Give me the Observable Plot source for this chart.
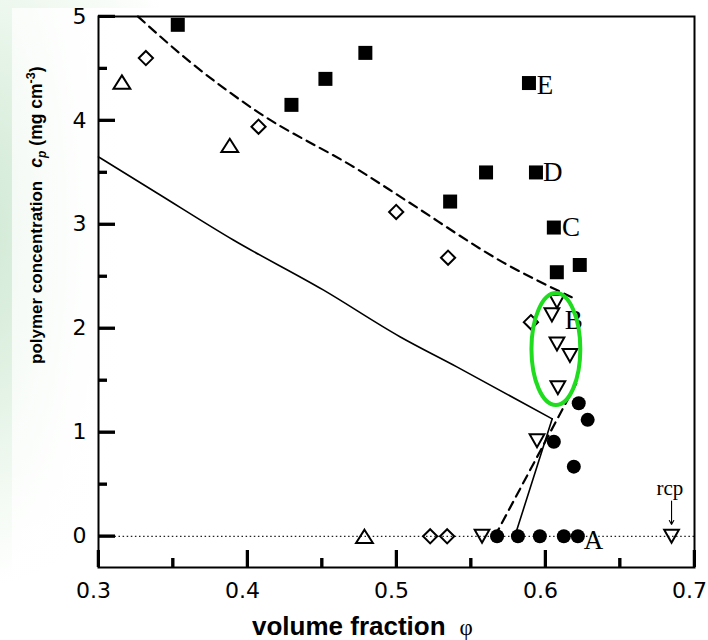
<!DOCTYPE html>
<html>
<head>
<meta charset="utf-8">
<script src="https://cdn.jsdelivr.net/npm/d3@7"></script>
<script src="https://cdn.jsdelivr.net/npm/@observablehq/plot@0.6"></script>
<style>
  html, body { margin: 0; padding: 0; }
  body {
    width: 708px; height: 640px; position: relative; overflow: hidden;
    background:
      linear-gradient(to right, rgba(255,255,255,0.72) 0px, rgba(255,255,255,0.9) 60px, #ffffff 110px) 12px 8px / 696px 632px no-repeat,
      radial-gradient(ellipse 260px 360px at -40px 230px, #cfe8d3 0%, #e2f2e4 45%, #f3faf3 75%, #ffffff 100%),
      #ffffff;
  }
  #chart { position: absolute; left: 0; top: 0; }
</style>
</head>
<body>
<div id="chart"></div>
<script>
// ---- data ----
const squareX = [0.3532, 0.4295, 0.4523, 0.4791, 0.5360, 0.5601, 0.5889, 0.5936, 0.6056, 0.6076, 0.6230];
const squareY = [4.92, 4.15, 4.40, 4.65, 3.22, 3.50, 4.36, 3.50, 2.97, 2.54, 2.61];

const diamondX = [0.3318, 0.4074, 0.4998, 0.5346, 0.5902, 0.5226, 0.5340];
const diamondY = [4.60, 3.94, 3.12, 2.68, 2.06, 0, 0];

const triUpX = [0.3157, 0.3881, 0.4785];
const triUpY = [4.37, 3.76, 0];

const triDownX = [0.6077, 0.6043, 0.6077, 0.6164, 0.6083, 0.5943, 0.5574, 0.6846];
const triDownY = [2.26, 2.13, 1.85, 1.74, 1.43, 0.92, 0, 0];

const circleX = [0.5675, 0.5815, 0.5962, 0.6123, 0.6217, 0.6056, 0.6190, 0.6223, 0.6283];
const circleY = [0, 0, 0, 0, 0, 0.91, 0.67, 1.28, 1.12];

// solid boundary: upper branch (smooth) and lower branch (straight)
const solidUpX = [0.3000, 0.3395, 0.3905, 0.4508, 0.5023, 0.5405, 0.6045];
const solidUpY = [3.65, 3.30, 2.85, 2.37, 1.92, 1.63, 1.13];
const solidLowX = [0.6045, 0.5794];
const solidLowY = [1.13, 0];

// dashed boundary: upper branch (smooth) and lower branch (straight)
const dashUpX = [0.3265, 0.3600, 0.4060, 0.4750, 0.5065, 0.5734, 0.6176];
const dashUpY = [5.00, 4.58, 4.09, 3.52, 3.23, 2.62, 2.30];
const dashLowX = [0.5660, 0.6206];
const dashLowY = [0, 1.47];

const letterText = ["E", "D", "C", "B", "A"];
const letterX = [0.5942, 0.5983, 0.6110, 0.6130, 0.6257];
const letterY = [4.34, 3.50, 2.97, 2.08, -0.04];

const rcpText = ["rcp"];
const rcpX = [0.6835];
const rcpY = [0.46];
const arrowX = [0.6846];
const arrowY1 = [0.34];
const arrowY2 = [0.115];

const ellipseX = [0.5909, 0.6237];
const ellipseY = [1.258, 2.335];

const xMajor = [0.3, 0.4, 0.5, 0.6, 0.7];
const xTickLabels = ["0.3", "0.4", "0.5", "0.6", "0.7"];
const xMinor = [0.35, 0.45, 0.55, 0.65];
const yMajor = [0, 1, 2, 3, 4, 5];
const yTickLabels = ["0", "1", "2", "3", "4", "5"];
const yMinor = [0.5, 1.5, 2.5, 3.5, 4.5];

// ---- build tables ----
const zip = (xs, ys) => xs.map((x, i) => ({x, y: ys[i]}));
const squares = zip(squareX, squareY);
const diamonds = zip(diamondX, diamondY);
const triUps = zip(triUpX, triUpY);
const triDowns = zip(triDownX, triDownY);
const circles = zip(circleX, circleY);
const solidUp = zip(solidUpX, solidUpY);
const solidLow = zip(solidLowX, solidLowY);
const dashUp = zip(dashUpX, dashUpY);
const dashLow = zip(dashLowX, dashLowY);
const letters = letterText.map((t, i) => ({t, x: letterX[i], y: letterY[i]}));
const rcp = rcpText.map((t, i) => ({t, x: rcpX[i], y: rcpY[i]}));
const arrows = arrowX.map((x, i) => ({x, y1: arrowY1[i], y2: arrowY2[i]}));

const triangleUp = {
  draw(ctx, size) {
    const r = Math.sqrt(size / Math.PI);
    const w = 1.2 * r, h = 0.95 * r;
    ctx.moveTo(0, -h); ctx.lineTo(w, h); ctx.lineTo(-w, h); ctx.closePath();
  }
};
const triangleDown = {
  draw(ctx, size) {
    const r = Math.sqrt(size / Math.PI);
    const w = 1.05 * r, h = 0.93 * r;
    ctx.moveTo(-w, -h); ctx.lineTo(w, -h); ctx.lineTo(0, h); ctx.closePath();
  }
};

// layout
const W = 708, H = 640, ML = 98, MR = 14, MT = 16, MB = 73;
const innerW = W - ML - MR, innerH = H - MT - MB;
const majorLen = 17, minorLen = 9;

const tickFont = "DejaVu Sans, Liberation Sans, sans-serif";
const serif = "Liberation Serif, Times New Roman, serif";

const plot = Plot.plot({
  width: W,
  height: H,
  marginLeft: ML,
  marginRight: MR,
  marginTop: MT,
  marginBottom: MB,
  x: {domain: [0.3, 0.7], label: null},
  y: {domain: [-0.3, 5.0], label: null},
  marks: [
    Plot.ruleY([0], {stroke: "#222", strokeWidth: 1.3, strokeDasharray: "1.5,2.6"}),
    Plot.line(solidUp, {x: "x", y: "y", stroke: "#000", strokeWidth: 1.6, curve: "monotone-x"}),
    Plot.line(solidLow, {x: "x", y: "y", stroke: "#000", strokeWidth: 1.6}),
    Plot.line(dashUp, {x: "x", y: "y", stroke: "#000", strokeWidth: 2.2, strokeDasharray: "9,6", curve: "monotone-x"}),
    Plot.line(dashLow, {x: "x", y: "y", stroke: "#000", strokeWidth: 2.2, strokeDasharray: "9,6"}),
    Plot.dot(squares, {x: "x", y: "y", symbol: "square", r: 7.9, fill: "#000", stroke: "none"}),
    Plot.dot(circles, {x: "x", y: "y", symbol: "circle", r: 7, fill: "#000", stroke: "none"}),
    Plot.dot(diamonds, {x: "x", y: "y", symbol: "diamond2", r: 6.4, fill: "none", stroke: "#000", strokeWidth: 2}),
    Plot.dot(triUps, {x: "x", y: "y", symbol: triangleUp, r: 7, fill: "none", stroke: "#000", strokeWidth: 2}),
    Plot.dot(triDowns, {x: "x", y: "y", symbol: triangleDown, r: 7, fill: "none", stroke: "#000", strokeWidth: 2}),
    Plot.text(letters, {x: "x", y: "y", text: "t", textAnchor: "start", fontFamily: serif, fontSize: 27, fill: "#000"}),
    Plot.text(rcp, {x: "x", y: "y", text: "t", textAnchor: "middle", fontFamily: serif, fontSize: 21, fill: "#000"}),
    Plot.arrow(arrows, {x1: "x", x2: "x", y1: "y1", y2: "y2", stroke: "#000", strokeWidth: 1.1, headLength: 6}),
    // tick labels
    Plot.axisX({ticks: xMajor, anchor: "bottom", tickSize: 0, tickPadding: 15, dx: -5, tickFormat: (d, i) => xTickLabels[i], fontSize: 22, fontFamily: tickFont, label: null}),
    Plot.axisY({ticks: yMajor, anchor: "left", tickSize: 0, tickPadding: 12, tickFormat: (d, i) => yTickLabels[i], fontSize: 22, fontFamily: tickFont, label: null}),
    Plot.frame({stroke: "#000", strokeWidth: 2}),
    // inward ticks, drawn last
    Plot.tickX(xMajor, {x: d => d, insetTop: innerH - majorLen, stroke: "#000", strokeWidth: 3}),
    Plot.tickX(xMinor, {x: d => d, insetTop: innerH - minorLen, stroke: "#000", strokeWidth: 3}),
    Plot.tickY(yMajor, {y: d => d, insetRight: innerW - majorLen, stroke: "#000", strokeWidth: 3}),
    Plot.tickY(yMinor, {y: d => d, insetRight: innerW - minorLen, stroke: "#000", strokeWidth: 3})
  ]
});

document.getElementById("chart").appendChild(plot);

const svg = d3.select(plot);
const sx = plot.scale("x"), sy = plot.scale("y");

// green highlight ellipse, placed through the plot's scales
const ex0 = sx.apply(ellipseX[0]), ex1 = sx.apply(ellipseX[1]);
const ey0 = sy.apply(ellipseY[0]), ey1 = sy.apply(ellipseY[1]);
svg.append("ellipse")
  .attr("cx", (ex0 + ex1) / 2).attr("cy", (ey0 + ey1) / 2)
  .attr("rx", Math.abs(ex1 - ex0) / 2).attr("ry", Math.abs(ey1 - ey0) / 2)
  .attr("fill", "none").attr("stroke", "#1fdc1f").attr("stroke-width", 4);

// y axis title
const yl = svg.append("text")
  .attr("transform", "translate(42,364) rotate(-90)")
  .attr("text-anchor", "start")
  .attr("font-family", "Liberation Sans, Arial, sans-serif")
  .attr("font-weight", "bold")
  .attr("font-size", 17)
  .attr("fill", "#000");
yl.append("tspan").text("polymer concentration");
yl.append("tspan").attr("dx", 13).attr("font-style", "italic").attr("font-size", 17.5).text("c");
yl.append("tspan").attr("font-style", "italic").attr("font-size", 12).attr("dy", 4).text("p");
yl.append("tspan").attr("dy", -4).attr("dx", 5).attr("font-size", 17.5).text("(mg cm");
yl.append("tspan").attr("font-size", 12.5).attr("dy", -7).text("-3");
yl.append("tspan").attr("dy", 7).attr("font-size", 17.5).text(")");

// x axis title
const xl = svg.append("text")
  .attr("x", 252).attr("y", 635)
  .attr("text-anchor", "start")
  .attr("font-family", "Liberation Sans, Arial, sans-serif")
  .attr("font-weight", "bold")
  .attr("font-size", 26)
  .attr("fill", "#000");
xl.append("tspan").text("volume fraction");
xl.append("tspan").attr("dx", 14).attr("font-weight", "normal")
  .attr("font-family", serif)
  .attr("font-size", 23).text("φ");

// inward tick marks as rectangles too, on top of everything, placed with the plot's scales
const xBase = H - MB, yBase = ML, tw = 2.5;
const ticksG = svg.append("g").attr("fill", "#000");
xMajor.forEach(v => ticksG.append("rect").attr("x", sx.apply(v) - tw / 2).attr("y", xBase - majorLen).attr("width", tw).attr("height", majorLen));
xMinor.forEach(v => ticksG.append("rect").attr("x", sx.apply(v) - tw / 2).attr("y", xBase - minorLen).attr("width", tw).attr("height", minorLen));
yMajor.forEach(v => ticksG.append("rect").attr("x", yBase).attr("y", sy.apply(v) - tw / 2).attr("width", majorLen).attr("height", tw));
yMinor.forEach(v => ticksG.append("rect").attr("x", yBase).attr("y", sy.apply(v) - tw / 2).attr("width", minorLen).attr("height", tw));
</script>
</body>
</html>
